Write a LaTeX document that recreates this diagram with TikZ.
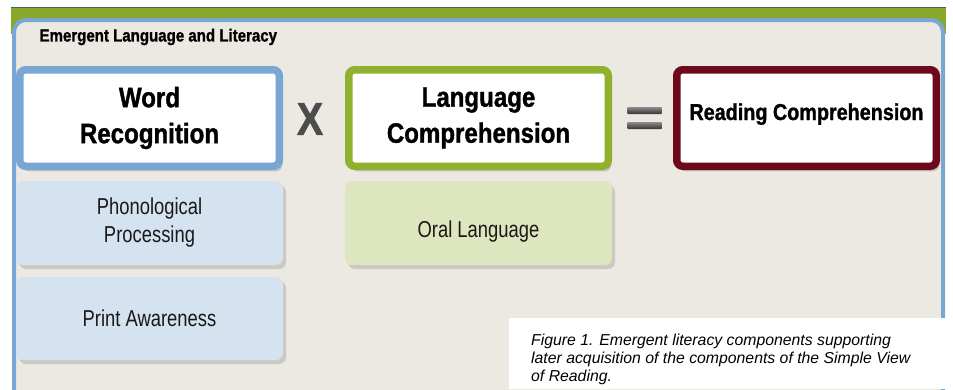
\documentclass[tikz,border=0pt]{standalone}
\usepackage{fontspec}
\setmainfont{Liberation Sans}
\newfontfamily\condbold[FakeStretch=0.86, FakeBold=1.2]{Liberation Sans Bold}
\newfontfamily\condreg[FakeStretch=0.8]{Liberation Sans}
\usepackage{tikz}
\usetikzlibrary{positioning,shadows}

\definecolor{wordblue}{RGB}{121,167,211}
\definecolor{langgreen}{RGB}{143,177,45}
\definecolor{readred}{RGB}{108,10,28}
\definecolor{panelbeige}{RGB}{236,233,226}
\definecolor{phonfill}{RGB}{213,227,241}
\definecolor{oralfill}{RGB}{222,230,191}

\tikzset{
  headbox/.style={rounded corners=6pt, fill=white, line width=7.5pt, outer sep=3.75pt,
    inner sep=0pt, minimum width=259.5pt, minimum height=96.5pt, align=center,
    font=\condbold\fontsize{28}{36}\selectfont,
    drop shadow={shadow xshift=3pt, shadow yshift=-5pt, opacity=0.35}},
  subbox/.style={rounded corners=7pt, inner sep=0pt, outer sep=0pt, minimum width=267pt,
    minimum height=84pt, align=center, text=black!90,
    font=\condreg\fontsize{23}{28}\selectfont,
    drop shadow={shadow xshift=3pt, shadow yshift=-4pt, opacity=0.3}},
  eqbar/.style={rounded corners=1pt, minimum width=35pt, minimum height=7pt, inner sep=0pt,
    top color=black!45, bottom color=black!80}
}

\begin{document}
\begin{tikzpicture}[x=1pt, y=-1pt]
  \useasboundingbox (0,0) rectangle (953,389);
  \clip (0,0) rectangle (953,389);

  \fill[langgreen!95!black] (11,8) rectangle (946,34);
  \draw[black!65] (11,7.5) -- (946,7.5);
  \filldraw[fill=panelbeige, draw=wordblue, line width=4pt, rounded corners=12pt]
    (14,420) -- (14,20) -- (943,20) -- (943,420) -- cycle;

  \node[anchor=west, font=\condbold\fontsize{17.5}{20}\selectfont] (title) at (36,37)
    {Emergent Language and Literacy};

  \node[headbox] (word) [draw=wordblue] at (149.5,118) {Word\\Recognition};
  \node[headbox] (lang) [draw=langgreen, right = 62pt of word] {Language\\Comprehension};
  \node[headbox] (read) [draw=readred, right = 61pt of lang, text height=14pt, text depth=10pt,
    font=\condbold\fontsize{23}{28}\selectfont] {Reading Comprehension};

  \node[subbox] (phon) [fill=phonfill, below = 11pt of word] {Phonological\\Processing};
  \node[subbox] (print) [fill=phonfill, below = 12pt of phon, minimum height=83pt] {Print Awareness};
  \node[subbox] (oral) [fill=oralfill, below = 11pt of lang, text height=30pt, text depth=2pt] {Oral Language};

  \node[font=\condbold\fontsize{46}{46}\selectfont, text=black!70] (times) at (310,119) {X};
  \node[eqbar] (eqtop) at (644.5,110.5) {};
  \node[eqbar] (eqbot) at (644.5,125.5) {};

  \fill[white] (509,318) rectangle (953,389);
  \node[anchor=north west, inner sep=0pt, align=left,
    font=\itshape\fontsize{15.8}{18.3}\selectfont] (caption) at (531,333.5)
    {Figure 1. Emergent literacy components supporting\\
     later acquisition of the components of the Simple View\\
     of Reading.};
\end{tikzpicture}
\end{document}
